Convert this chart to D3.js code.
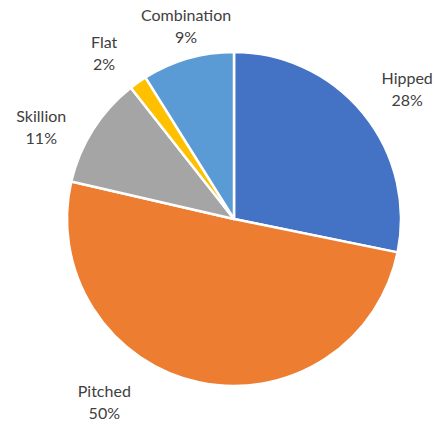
<!DOCTYPE html>
<html>
<head>
<meta charset="utf-8">
<script src="https://cdn.jsdelivr.net/npm/d3@7"></script>
<style>
  html, body { margin: 0; padding: 0; background: #fff; }
  svg { display: block; }
  text { font-family: Lato, "Open Sans", sans-serif; fill: #404040; }
</style>
</head>
<body>
<svg id="chart" width="435" height="425"></svg>
<script>
// Roof type shares (percent), clockwise from 12 o'clock
const categories = ["Hipped", "Pitched", "Skillion", "Flat", "Combination"];
const shares = [28.2, 50.4, 10.8, 1.7, 8.9];
const colors = ["#4472C4", "#ED7D31", "#A5A5A5", "#FFC000", "#5B9BD5"];

// Label anchor for each slice: angle (degrees clockwise from top) and distance from centre
const labelAngles = [53.3, 215.2, 295.2, 321.8, 346.0];
const labelRadii = [216, 225, 213, 210, 198];

const width = 435, height = 425;
const cx = 234, cy = 219, radius = 167;

const svg = d3.select("#chart");
const g = svg.append("g").attr("transform", `translate(${cx},${cy})`);

const data = categories.map((c, i) => ({ name: c, value: shares[i], color: colors[i], i }));

const pie = d3.pie().value(d => d.value).sort(null);
const arc = d3.arc().innerRadius(0).outerRadius(radius);

g.selectAll("path.slice")
  .data(pie(data))
  .join("path")
  .attr("class", "slice")
  .attr("d", arc)
  .attr("fill", d => d.data.color)
  .attr("stroke", "#fff")
  .attr("stroke-width", 2.5)
  .attr("stroke-linejoin", "round");

const labels = g.selectAll("g.label")
  .data(pie(data))
  .join("g")
  .attr("class", "label")
  .attr("transform", d => {
    const a = labelAngles[d.data.i] * Math.PI / 180;
    const r = labelRadii[d.data.i];
    return `translate(${r * Math.sin(a)},${-r * Math.cos(a)})`;
  });

labels.append("text")
  .attr("text-anchor", "middle")
  .attr("y", -6)
  .attr("font-size", 16)
  .text(d => d.data.name);

labels.append("text")
  .attr("text-anchor", "middle")
  .attr("y", 16)
  .attr("font-size", 16)
  .text(d => Math.round(d.data.value) + "%");
</script>
</body>
</html>
